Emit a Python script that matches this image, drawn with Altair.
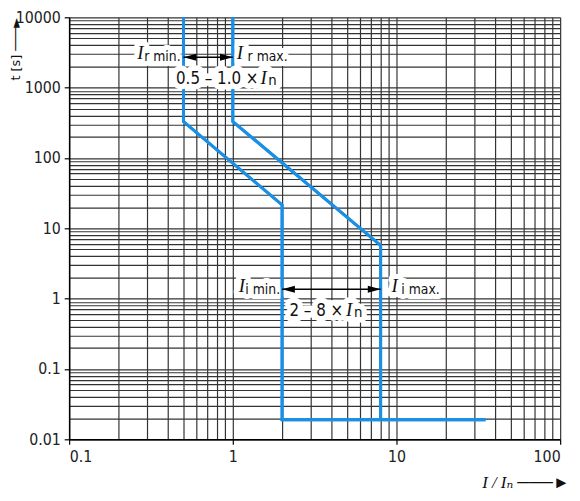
import altair as alt
import pandas as pd

# ---- data ----
min_I = [0.5, 0.5, 2, 2, 35]
min_t = [10000, 330, 21.5, 0.019, 0.019]
max_I = [1, 1, 8, 8]
max_t = [10000, 330, 5.7, 0.019]

x_major = [0.1, 1, 10, 100]
y_major = [0.01, 0.1, 1, 10, 100, 1000, 10000]

# annotation anchors (data units)
ir_range = [0.5, 1.0]
ir_level = 2700
ii_range = [2, 8]
ii_level = 1.36

BLUE = "#1a8fe6"
NARROW = "Liberation Sans Narrow, DejaVu Sans Condensed, sans-serif"
SERIF = "Liberation Serif, DejaVu Serif, serif"

x_grid = sorted({round(m * d, 6) for d in x_major[:-1] for m in range(1, 10)} | {x_major[-1]})
y_grid = sorted({round(m * d, 6) for d in y_major[:-1] for m in range(1, 10)} | {y_major[-1]})


def major_test(vals):
    return " || ".join(f"abs(datum.value - {v}) < {v * 1e-6}" for v in vals)


xscale = alt.Scale(type="log", domain=[x_major[0], x_major[-1]], nice=False)
yscale = alt.Scale(type="log", domain=[y_major[0], y_major[-1]], nice=False)

common_axis = dict(
    grid=True, gridColor="#333333", gridWidth=1.2, gridOpacity=1,
    domainColor="#000", domainWidth=1.5, tickColor="#000", tickWidth=1.2, tickSize=5,
    labelFont=NARROW, labelFontSize=16, labelColor="#222", labelOverlap=False,
    format="~g",
)

x_axis = alt.Axis(
    values=x_grid,
    labelExpr=f"({major_test(x_major)}) ? datum.label : ''",
    tickOpacity={"condition": {"test": major_test(x_major), "value": 1}, "value": 0},
    labelPadding=4,
    title="I / Iₙ ───►",
    titleFont=SERIF, titleFontStyle="italic", titleFontWeight="normal", titleFontSize=17,
    titleColor="#111",
    titleAnchor="end", titleAlign="right", titleX=507, titleY=49, titleBaseline="alphabetic",
    **common_axis,
)
y_axis = alt.Axis(
    values=y_grid,
    labelExpr=f"({major_test(y_major)}) ? datum.label : ''",
    tickOpacity={"condition": {"test": major_test(y_major), "value": 1}, "value": 0},
    labelPadding=4,
    title="t [s] ───►",
    titleFont="DejaVu Sans", titleFontWeight="normal", titleFontSize=13,
    titleColor="#111",
    titleAngle=270, titleAlign="right", titleBaseline="middle", titleX=-54, titleY=0,
    **common_axis,
)

curves = pd.DataFrame({
    "I": min_I + max_I,
    "t": min_t + max_t,
    "series": ["min"] * len(min_I) + ["max"] * len(max_I),
    "order": list(range(len(min_I))) + list(range(len(max_I))),
})

base = alt.Chart(curves).encode(
    x=alt.X("I:Q", scale=xscale, axis=x_axis),
    y=alt.Y("t:Q", scale=yscale, axis=y_axis),
)
lines = base.mark_line(color=BLUE, strokeWidth=3, strokeJoin="miter").encode(
    detail="series:N", order="order:Q"
)


def txt(x, y, text, font, size, align, dx, dy, style="normal", halo=0):
    d = pd.DataFrame({"x": [x], "y": [y], "text": [text]})
    kw = dict(font=font, fontSize=size, align=align, dx=dx, dy=dy,
              baseline="alphabetic", fontStyle=style)
    if halo:
        m = alt.Chart(d).mark_text(color="white", stroke="white", strokeWidth=halo,
                                   strokeJoin="round", **kw)
    else:
        m = alt.Chart(d).mark_text(color="#111", **kw)
    return m.encode(x=alt.X("x:Q", scale=xscale), y=alt.Y("y:Q", scale=yscale),
                    text="text:N")


def label_set(halo=0):
    h = halo
    return [
        # I_r min.
        txt(ir_range[0], ir_level, "I", SERIF, 19, "left", -47, 2, "italic", h),
        txt(ir_range[0], ir_level, "r min.", NARROW, 14, "right", -3, 4, "normal", h),
        # I_r max.
        txt(ir_range[1], ir_level, "I", SERIF, 19, "left", 4, 2, "italic", h),
        txt(ir_range[1], ir_level, "r max.", NARROW, 14, "left", 15, 4, "normal", h),
        # I_i min.
        txt(ii_range[0], ii_level, "I", SERIF, 19, "left", -44, 3, "italic", h),
        txt(ii_range[0], ii_level, "i min.", NARROW, 14, "right", -2, 5, "normal", h),
        # I_i max.
        txt(ii_range[1], ii_level, "I", SERIF, 19, "left", 11, 3, "italic", h),
        txt(ii_range[1], ii_level, "i max.", NARROW, 14, "left", 21, 5, "normal", h),
    ]


def range_set(halo=0):
    h = halo
    return [
        txt(ir_range[1], ir_level, "0.5 – 1.0 ×", NARROW, 17, "right", 26, 27, "normal", h),
        txt(ir_range[1], ir_level, "I", SERIF, 19, "left", 28, 27, "italic", h),
        txt(ir_range[1], ir_level, "n", NARROW, 15, "left", 36, 28, "normal", h),
        txt(ii_range[1], ii_level, "2 – 8 ×", NARROW, 17, "right", -38, 27, "normal", h),
        txt(ii_range[1], ii_level, "I", SERIF, 19, "left", -35, 27, "italic", h),
        txt(ii_range[1], ii_level, "n", NARROW, 15, "left", -27, 28, "normal", h),
    ]


arrows = pd.DataFrame({
    "x1": [ir_range[0], ii_range[0]],
    "x2": [ir_range[1], ii_range[1]],
    "y": [ir_level, ii_level],
})
shaft = alt.Chart(arrows).mark_rule(color="#000", strokeWidth=1.5).encode(
    x=alt.X("x1:Q", scale=xscale), x2="x2:Q", y=alt.Y("y:Q", scale=yscale)
)
head_left = alt.Chart(arrows).mark_point(
    shape="M0,0L2,-0.55L2,0.55Z", filled=True, color="#000", opacity=1, size=169, strokeWidth=0
).encode(x=alt.X("x1:Q", scale=xscale), y=alt.Y("y:Q", scale=yscale))
head_right = alt.Chart(arrows).mark_point(
    shape="M0,0L-2,-0.55L-2,0.55Z", filled=True, color="#000", opacity=1, size=169, strokeWidth=0
).encode(x=alt.X("x2:Q", scale=xscale), y=alt.Y("y:Q", scale=yscale))

layers = (
    [lines]
    + label_set(halo=10)
    + [lines]
    + range_set(halo=11)
    + [shaft, head_left, head_right]
    + label_set()
    + range_set()
)

chart = alt.layer(*layers).properties(
    width=498, height=428,
    padding={"left": 62, "top": 6, "right": 12, "bottom": 51},
    autosize=alt.AutoSizeParams(type="none"),
    background="white",
).configure_view(stroke="transparent")

chart.save("out.html", embed_options={"renderer": "svg", "actions": False})
